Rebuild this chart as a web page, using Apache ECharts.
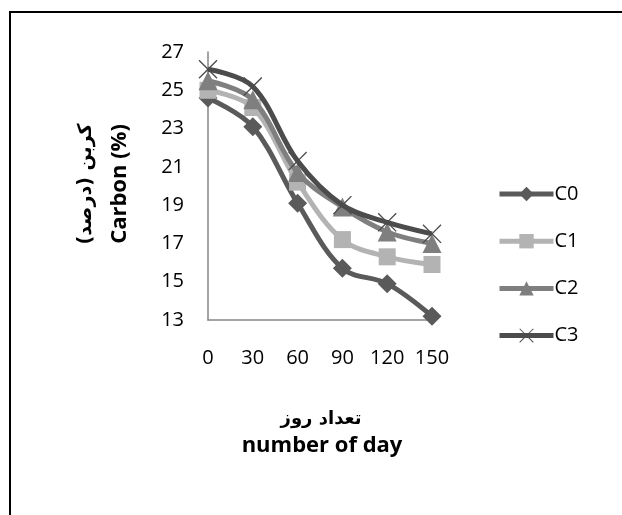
<!DOCTYPE html>
<html>
<head>
<meta charset="utf-8">
<script src="https://cdn.jsdelivr.net/npm/echarts@6/dist/echarts.min.js"></script>
<style>
html,body{margin:0;padding:0;background:#fff;}
#chart{width:622px;height:515px;}
</style>
</head>
<body>
<div id="chart"></div>
<script>
const days = ['0','30','60','90','120','150'];
const c0 = [24.6, 23.1, 19.1, 15.7, 14.9, 13.2];
const c1 = [25.0, 24.1, 20.2, 17.2, 16.3, 15.9];
const c2 = [25.5, 24.5, 20.7, 18.9, 17.6, 17.0];
const c3 = [26.1, 25.2, 21.3, 19.0, 18.1, 17.5];
const seriesNames = ['C0','C1','C2','C3'];
const yTitleFa = 'کربن (درصد)';
const yTitleEn = 'Carbon (%)';
const xTitleFa = 'تعداد روز';
const xTitleEn = 'number of day';

const colors = ['#5a5a5a','#b3b3b3','#7f7f7f','#4c4c4c'];
const crossPath = 'path://M0,1L1,0L10,9L19,0L20,1L11,10L20,19L19,20L10,11L1,20L0,19L9,10Z';
const symbols = ['diamond','rect','triangle',crossPath];
const sizes = [19,17,19,19];
const data = [c0,c1,c2,c3];

const chart = echarts.init(document.getElementById('chart'));
const font = 'Open Sans, Lato, sans-serif';
chart.setOption({
  animation:false,
  backgroundColor:'#fff',
  grid:{left:208,right:190,top:52,bottom:195,containLabel:false},
  xAxis:{
    type:'category',boundaryGap:false,data:days,
    axisLine:{lineStyle:{color:'#868686',width:1.5}},
    axisTick:{show:false},
    axisLabel:{color:'#000',fontSize:20,fontFamily:font,margin:28}
  },
  yAxis:{
    type:'value',min:13,max:27,interval:2,
    axisLine:{show:true,lineStyle:{color:'#868686',width:1.5}},
    axisTick:{show:false},
    splitLine:{show:false},
    axisLabel:{color:'#000',fontSize:20,fontFamily:font,margin:24}
  },
  legend:{
    orient:'vertical',left:492,top:179,itemWidth:54,itemHeight:18,itemGap:27.2,
    lineStyle:{width:5},
    textStyle:{color:'#000',fontSize:20,fontFamily:font,padding:[0,0,0,-4]},
    data:seriesNames
  },
  series:data.map((d,i)=>({
    name:seriesNames[i],type:'line',data:d,smooth:0.35,
    symbol:symbols[i],symbolSize:sizes[i],showSymbol:true,
    lineStyle:{color:colors[i],width:5},
    itemStyle:{color:colors[i]},
    z:2+i
  })),
  graphic:[
    {type:'rect',shape:{x:10,y:12,width:700,height:600},style:{fill:'none',stroke:'#000',lineWidth:2},silent:true},
    {type:'text',x:321,y:419,style:{text:xTitleFa,font:'bold 18px "DejaVu Sans"',fill:'#000',textAlign:'center',textVerticalAlign:'middle'}},
    {type:'text',x:322,y:446,style:{text:xTitleEn,font:'bold 22px "Open Sans"',fill:'#000',textAlign:'center',textVerticalAlign:'middle'}},
    {type:'text',rotation:Math.PI/2,x:86,y:184,style:{text:yTitleFa,font:'bold 19px "DejaVu Sans"',fill:'#000',textAlign:'center',textVerticalAlign:'middle'}},
    {type:'text',rotation:Math.PI/2,x:120,y:184,style:{text:yTitleEn,font:'bold 22px "Open Sans"',fill:'#000',textAlign:'center',textVerticalAlign:'middle'}}
  ]
});
</script>
</body>
</html>
